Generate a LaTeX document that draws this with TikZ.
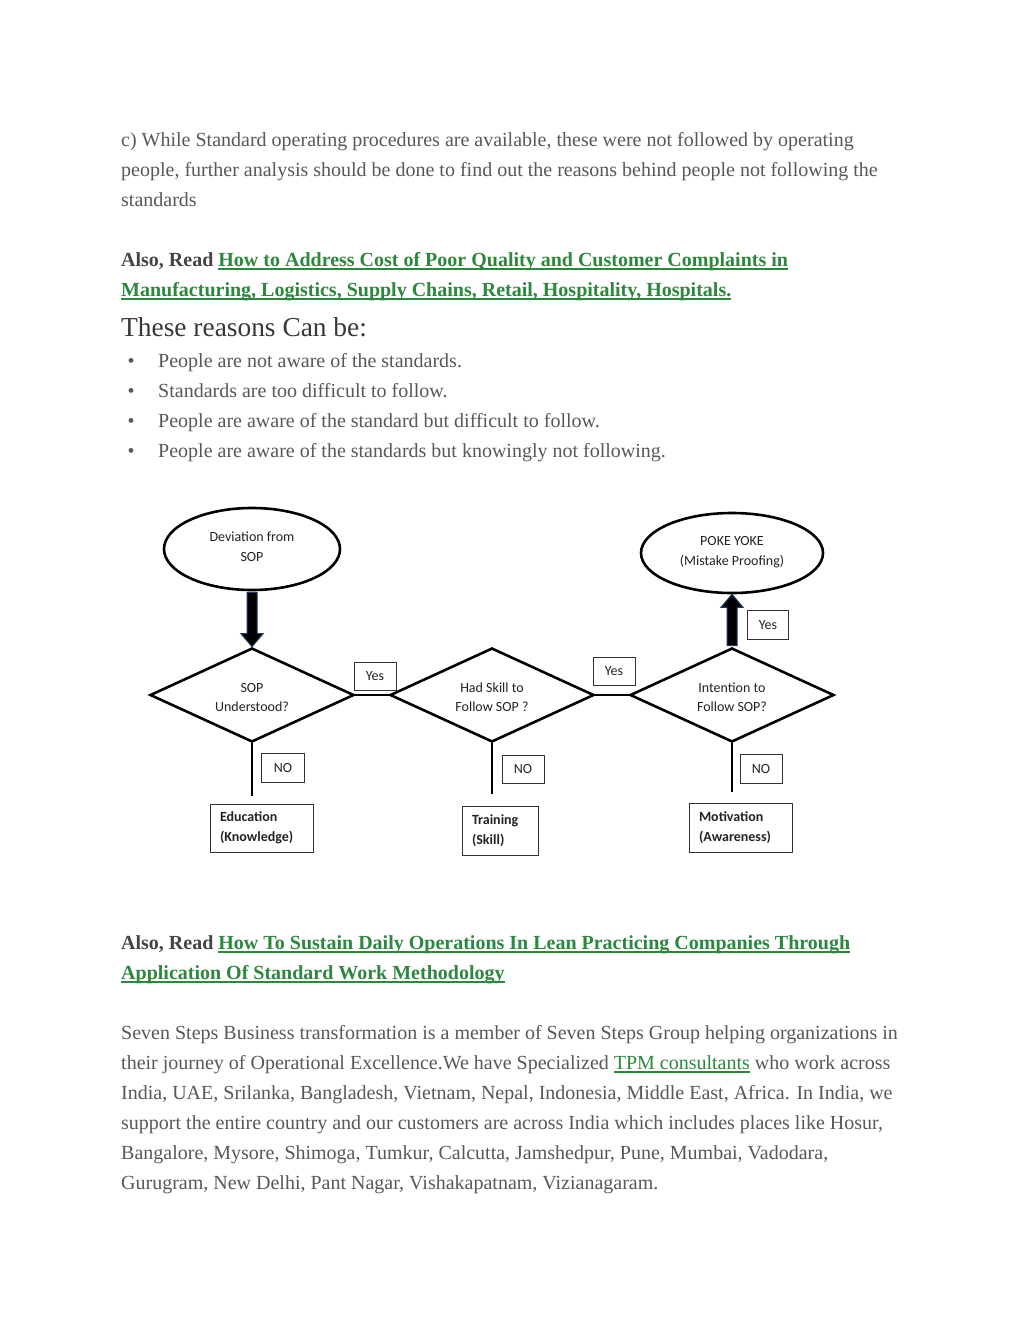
\documentclass[tikz,border=0pt]{standalone}
\usepackage{fontspec}
\setmainfont{Liberation Serif}
\newfontfamily\bodyf{Liberation Serif}
\newfontfamily\diaf{Carlito}
\usetikzlibrary{shapes.geometric}
\definecolor{bodygray}{RGB}{88,88,88}
\definecolor{boldgray}{RGB}{68,68,68}
\definecolor{linkgreen}{RGB}{44,136,60}
\definecolor{navyc}{RGB}{31,56,100}
\definecolor{diatext}{RGB}{35,35,35}
\newcommand\myul[1]{\setbox0\hbox{#1}\rlap{\raisebox{-3.5pt}{\color{linkgreen}\rule{\wd0}{1.8pt}}}\box0}
\begin{document}
\begin{tikzpicture}[x=1pt,y=-1pt,
  bodytext/.style={anchor=base west, inner sep=0pt, font=\bodyf\fontsize{20}{24}\selectfont, text=bodygray},
  ell/.style={ellipse, draw=black, line width=2.6pt, minimum width=176pt, minimum height=82pt, inner sep=0pt, align=center, font=\diaf\fontsize{14}{19.5}\selectfont, text=diatext},
  dia/.style={diamond, draw=black, line width=2.6pt, minimum width=204pt, minimum height=94pt, inner sep=0pt, aspect=2.17, align=center, font=\diaf\fontsize{14}{19.5}\selectfont, text=diatext},
  lab/.style={draw=black!80, line width=0.8pt, minimum width=42pt, minimum height=28pt, inner sep=0pt, font=\diaf\fontsize{14}{16}\selectfont, text=diatext},
  res/.style={draw=black!80, line width=0.8pt, inner xsep=10pt, inner ysep=0pt, minimum height=48pt, align=left, font=\diaf\bfseries\fontsize{14}{19.5}\selectfont, text=diatext},
  conn/.style={line width=2.6pt, draw=black},
  bigarrow/.style={fill=black, draw=navyc, line width=1pt}]
\useasboundingbox (0,0) rectangle (1024,1325);
\fill[white] (0,0) rectangle (1024,1325);
% ---- top text
\node[bodytext] (l1) at (121,146) {c) While Standard operating procedures are available, these were not followed by operating};
\node[bodytext] (l2) at (121,176) {people, further analysis should be done to find out the reasons behind people not following the};
\node[bodytext] (l3) at (121,206) {standards};
\node[bodytext] (l4) at (121,266) {\textcolor{boldgray}{\bfseries Also, Read} \textcolor{linkgreen}{\bfseries\myul{How to Address Cost of Poor Quality and Customer Complaints in}}};
\node[bodytext] (l5) at (121,296) {\textcolor{linkgreen}{\bfseries\myul{Manufacturing, Logistics, Supply Chains, Retail, Hospitality, Hospitals.}}};
\node[bodytext, font=\bodyf\fontsize{27.4}{30}\selectfont, text=black!78] (h1) at (121,336) {These reasons Can be:};
\foreach \i/\t in {0/People are not aware of the standards.,1/Standards are too difficult to follow.,2/People are aware of the standard but difficult to follow.,3/People are aware of the standards but knowingly not following.}{
  \node[anchor=base, inner sep=0pt, font=\bodyf\fontsize{20}{24}\selectfont, text=bodygray] (bul\i) at (131,367+30*\i) {\textbullet};
  \node[bodytext] (b\i) at (158,367+30*\i) {\t};
}
% ---- diagram
\node[ell] (dev) at (252,549) {Deviation from\\SOP\rule[-5pt]{0pt}{5pt}};
\node[ell, minimum width=182pt, minimum height=80pt] (poka) at (732,553) {POKE YOKE\\(Mistake Proofing)\rule[-4pt]{0pt}{4pt}};
\node[dia] (d1) at (252,695) {\rule{0pt}{14pt}SOP\\Understood?};
\node[dia] (d2) at (492,695) {\rule{0pt}{14pt}Had Skill to\\Follow SOP ?};
\node[dia] (d3) at (732,695) {\rule{0pt}{14pt}Intention to\\Follow SOP?};
\draw[conn] (d1.east) -- (d2.west);
\draw[conn] (d2.east) -- (d3.west);
\node[lab] (y1) at (375,676) {Yes};
\node[lab] (y2) at (614,671) {Yes};
\node[lab, minimum width=41pt, minimum height=29pt] (y3) at (768,625) {Yes};
\coordinate (e1) at (252,796);
\coordinate (e2) at (492,794);
\coordinate (e3) at (732,792);
\draw[conn] (d1.south) -- (e1);
\draw[conn] (d2.south) -- (e2);
\draw[conn] (d3.south) -- (e3);
\node[lab, minimum width=43pt, minimum height=29pt] (n1) at (283,768) {NO};
\node[lab, minimum width=42pt, minimum height=28pt] (n2) at (523,769) {NO};
\node[lab, minimum width=42pt, minimum height=29pt] (n3) at (761,769) {NO};
\node[res, text width=83pt] (r1) at (261.5,828) {Education\\(Knowledge)};
\node[res, text width=56pt, minimum height=49pt] (r2) at (500,830.5) {Training\\(Skill)};
\node[res, text width=83pt, minimum height=49pt] (r3) at (740.5,827.5) {Motivation\\(Awareness)};
% big arrows
\filldraw[bigarrow] ([xshift=-5pt,yshift=-1pt]dev.south) -- ([xshift=-5pt,yshift=13pt]d1.north) -- ([xshift=-11pt,yshift=13pt]d1.north) -- (d1.north) -- ([xshift=11pt,yshift=13pt]d1.north) -- ([xshift=5pt,yshift=13pt]d1.north) -- ([xshift=5pt,yshift=-1pt]dev.south) -- cycle;
\filldraw[bigarrow] ([xshift=-5pt,yshift=1pt]d3.north) -- ([xshift=-5pt,yshift=-13pt]poka.south) -- ([xshift=-11pt,yshift=-13pt]poka.south) -- (poka.south) -- ([xshift=11pt,yshift=-13pt]poka.south) -- ([xshift=5pt,yshift=-13pt]poka.south) -- ([xshift=5pt,yshift=1pt]d3.north) -- cycle;
% ---- bottom text
\node[bodytext] (l6) at (121,949) {\textcolor{boldgray}{\bfseries Also, Read} \textcolor{linkgreen}{\bfseries\myul{How To Sustain Daily Operations In Lean Practicing Companies Through}}};
\node[bodytext] (l7) at (121,979) {\textcolor{linkgreen}{\bfseries\myul{Application Of Standard Work Methodology}}};
\node[bodytext] (p1) at (121,1039) {Seven Steps Business transformation is a member of Seven Steps Group helping organizations in};
\node[bodytext] (p2) at (121,1069) {their journey of Operational Excellence.We have Specialized \textcolor{linkgreen}{\myul{TPM consultants}} who work across};
\node[bodytext] (p3) at (121,1099) {India, UAE, Srilanka, Bangladesh, Vietnam, Nepal, Indonesia, Middle East, Africa. In India, we};
\node[bodytext] (p4) at (121,1129) {support the entire country and our customers are across India which includes places like Hosur,};
\node[bodytext] (p5) at (121,1159) {Bangalore, Mysore, Shimoga, Tumkur, Calcutta, Jamshedpur, Pune, Mumbai, Vadodara,};
\node[bodytext] (p6) at (121,1189) {Gurugram, New Delhi, Pant Nagar, Vishakapatnam, Vizianagaram.};
\end{tikzpicture}
\end{document}
